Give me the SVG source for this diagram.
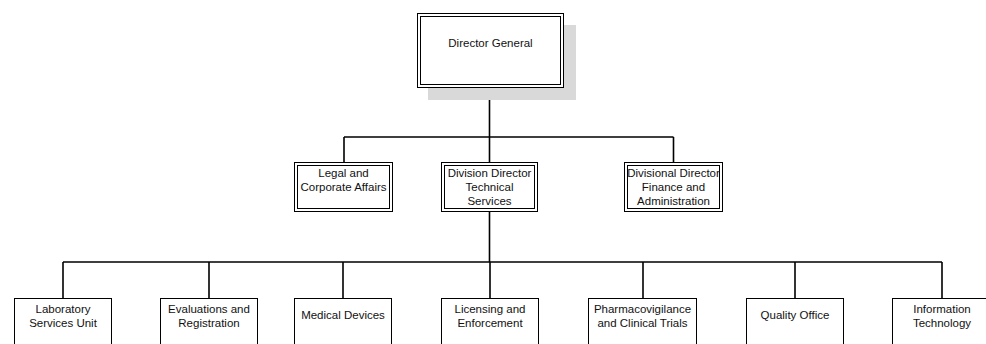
<svg xmlns="http://www.w3.org/2000/svg" width="986" height="344" viewBox="0 0 986 344">
  <style>
    .box { fill: #ffffff; stroke: #000000; stroke-width: 1; }
    .inner { fill: none; stroke: #000000; stroke-width: 1; }
    .shadow { fill: #d9d9d9; }
    .lbl { font-family: "Liberation Sans", Arial, sans-serif; font-size: 11.5px; fill: #111111; text-anchor: middle; }
    .link { fill: none; stroke: #000000; stroke-width: 1.6; }
  </style>
  <rect width="986" height="344" fill="#ffffff"/>

  <!-- connectors -->
  <g id="connectors">
    <path class="link" d="M489.5 87 V137 M344 137 H673.5 M344 137 V162 M489.5 137 V162 M673.5 137 V162"/>
    <path class="link" d="M489.5 212 V262 M63 262 H942 M63 262 V298 M209 262 V298 M343 262 V298 M490 262 V298 M643 262 V298 M795 262 V298 M942 262 V298"/>
  </g>

  <!-- top level -->
  <g id="director-general">
    <rect class="shadow" x="428" y="25" width="148" height="75"/>
    <rect class="box" x="417.5" y="13.5" width="146" height="74"/>
    <rect class="inner" x="420.5" y="16.5" width="140" height="68"/>
    <text class="lbl" x="490.5" y="47">Director General</text>
  </g>

  <!-- second level -->
  <g id="legal">
    <rect class="box" x="294.5" y="162.5" width="98" height="49"/>
    <rect class="inner" x="297.5" y="165.5" width="92" height="43"/>
    <text class="lbl" x="343.5" y="177">Legal and</text>
    <text class="lbl" x="343.5" y="191">Corporate Affairs</text>
  </g>
  <g id="technical-services">
    <rect class="box" x="441.5" y="162.5" width="96" height="49"/>
    <rect class="inner" x="444.5" y="165.5" width="90" height="43"/>
    <text class="lbl" x="489.5" y="177">Division Director</text>
    <text class="lbl" x="489.5" y="191">Technical</text>
    <text class="lbl" x="489.5" y="205">Services</text>
  </g>
  <g id="finance-admin">
    <rect class="box" x="624.5" y="162.5" width="98" height="49"/>
    <rect class="inner" x="627.5" y="165.5" width="92" height="43"/>
    <text class="lbl" x="673.5" y="177">Divisional Director</text>
    <text class="lbl" x="673.5" y="191">Finance and</text>
    <text class="lbl" x="673.5" y="205">Administration</text>
  </g>

  <!-- third level -->
  <g id="laboratory">
    <rect class="box" x="14.5" y="298.5" width="97" height="60"/>
    <text class="lbl" x="63" y="313">Laboratory</text>
    <text class="lbl" x="63" y="327">Services Unit</text>
  </g>
  <g id="evaluations">
    <rect class="box" x="160.5" y="298.5" width="97" height="60"/>
    <text class="lbl" x="209" y="313">Evaluations and</text>
    <text class="lbl" x="209" y="327">Registration</text>
  </g>
  <g id="medical-devices">
    <rect class="box" x="294.5" y="298.5" width="97" height="60"/>
    <text class="lbl" x="343" y="319">Medical Devices</text>
  </g>
  <g id="licensing">
    <rect class="box" x="441.5" y="298.5" width="97" height="60"/>
    <text class="lbl" x="490" y="313">Licensing and</text>
    <text class="lbl" x="490" y="327">Enforcement</text>
  </g>
  <g id="pharmacovigilance">
    <rect class="box" x="588.5" y="298.5" width="108" height="60"/>
    <text class="lbl" x="642.5" y="313">Pharmacovigilance</text>
    <text class="lbl" x="642.5" y="327">and Clinical Trials</text>
  </g>
  <g id="quality-office">
    <rect class="box" x="746.5" y="298.5" width="97" height="60"/>
    <text class="lbl" x="795" y="319">Quality Office</text>
  </g>
  <g id="information-technology">
    <rect class="box" x="892.5" y="298.5" width="100" height="60"/>
    <text class="lbl" x="942" y="313">Information</text>
    <text class="lbl" x="942" y="327">Technology</text>
  </g>
</svg>
